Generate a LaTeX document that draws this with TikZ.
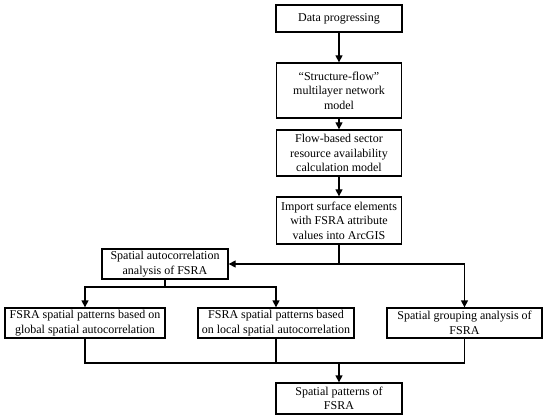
\documentclass[tikz,border=0pt]{standalone}
\usepackage{fontspec}
\setmainfont{Liberation Serif}
\usetikzlibrary{arrows.meta}
\begin{document}
\begin{tikzpicture}[x=1pt,y=-1pt,
  box/.style={draw,line width=1.3pt,inner sep=0pt,align=center,font=\fontsize{12}{14.5}\selectfont},
  conn/.style={line width=1.3pt},
  arr/.style={conn,-{Triangle[length=7pt,width=7pt]}}]
\useasboundingbox (0,0) rectangle (550,420);
\node[box,minimum width=126,minimum height=27] (b1) at (339,18.5) {Data progressing};
\node[box,minimum width=125,minimum height=55] (b2) at (339,90.5) {``Structure-flow''\\multilayer network\\model};
\node[box,minimum width=125,minimum height=46] (b3) at (339,153) {Flow-based sector\\resource availability\\calculation model};
\node[box,minimum width=125,minimum height=47] (b4) at (339,220.5) {Import surface elements\\with FSRA attribute\\values into ArcGIS};
\node[box,minimum width=126,minimum height=30] (sa) at (165,264) {Spatial autocorrelation\\analysis of FSRA};
\node[box,minimum width=160,minimum height=30] (g) at (85,323) {FSRA spatial patterns based on\\global spatial autocorrelation};
\node[box,minimum width=156,minimum height=30] (l) at (276,323) {FSRA spatial patterns based\\on local spatial autocorrelation};
\node[box,minimum width=155,minimum height=30] (gr) at (464.5,323) {Spatial grouping analysis of\\FSRA};
\node[box,minimum width=126,minimum height=31] (f) at (339,398.5) {Spatial patterns of\\FSRA};
\coordinate (j1) at (b4.south |- sa.east);
\coordinate (j2) at (165,287);
\coordinate (j3) at (339,363);
\draw[arr] (b1) -- (b2);
\draw[arr] (b2) -- (b3);
\draw[arr] (b3) -- (b4);
\draw[conn] (b4.south) -- (j1);
\draw[arr] (j1) -- (sa.east);
\draw[arr] (j1) -| (gr.north);
\draw[conn] (sa.south) -- (j2);
\draw[arr] (j2) -| (g.north);
\draw[arr] (j2) -| (l.north);
\draw[conn] (g.south) |- (j3);
\draw[conn] (gr.south) |- (j3);
\draw[conn] (l.south) -- (l.south |- j3);
\draw[arr] (j3) -- (f.north);
\end{tikzpicture}
\end{document}
